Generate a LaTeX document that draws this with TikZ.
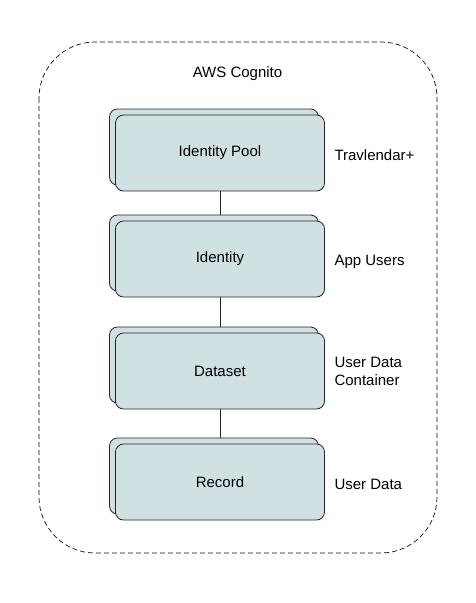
\documentclass[tikz,border=0pt]{standalone}
\usepackage{fontspec}
\setmainfont{Liberation Sans}
\usepackage{xcolor}
\usetikzlibrary{shadows,backgrounds}
\definecolor{layerfill}{HTML}{D0E0E3}
\tikzset{layer/.style = {draw=black!85, line width=0.8pt, fill=layerfill,
  rounded corners=8pt, minimum width=209pt, minimum height=76pt,
  copy shadow={shadow xshift=-6pt, shadow yshift=6pt}},
  note/.style = {anchor=west, align=left},
  link/.style = {draw=black!85, line width=0.8pt}
  }

\begin{document}
\begin{tikzpicture}[x=1pt,y=-1pt,font=\fontsize{15}{18}\selectfont]
        \useasboundingbox (0,0) rectangle (475,603);
        % outer service frame
        \draw[black!95, line width=0.7pt, dash pattern=on 5pt off 3pt,
              rounded corners=56pt] (39,42) rectangle (437,553);
        \path (237.5,74) node (cognito) {AWS Cognito}
        (220,153) node[layer] (pool) {Identity Pool}
        (220,259) node[layer] (ident) {Identity}
        (220,371) node[layer] (data) {Dataset}
        (220,482) node[layer] (rec) {Record};
        \path (331,155) node[note] (travl) {Travlendar+}
        (331,262) node[note] (users) {App Users}
        (331,371) node[note] (cont) {User Data\\Container}
        (331,484) node[note] (udata) {User Data};
        \begin{pgfonlayer}{background}
        \path
            (pool.center)  edge[link] (ident.center)
            (ident.center) edge[link] (data.center)
            (data.center)  edge[link] (rec.center);
        \end{pgfonlayer}
\end{tikzpicture}
\end{document}
